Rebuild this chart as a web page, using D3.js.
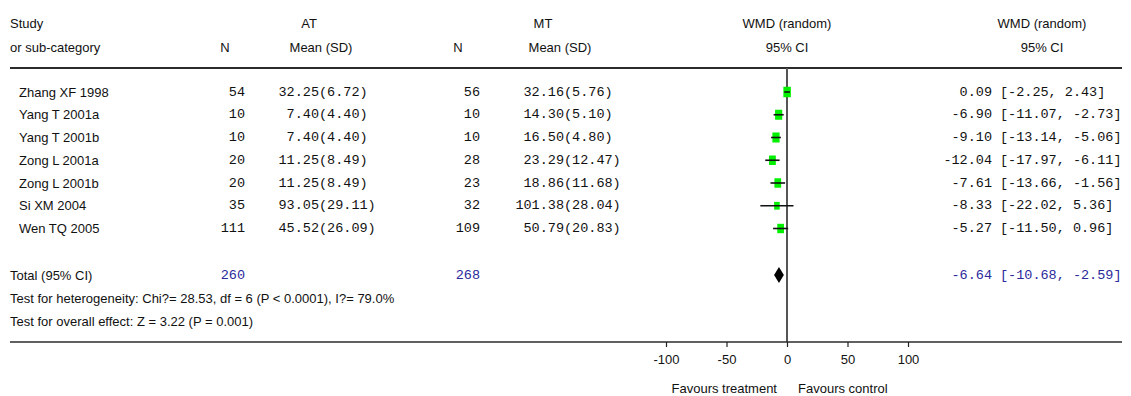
<!DOCTYPE html>
<html>
<head>
<meta charset="utf-8">
<script src="https://cdn.jsdelivr.net/npm/d3@7"></script>
<style>
  html, body { margin: 0; padding: 0; background: #fff; }
  svg { display: block; }
  .sans { font-family: "Liberation Sans", Arial, sans-serif; font-size: 13px; fill: #111; }
  .mono { font-family: "Liberation Mono", "Courier New", monospace; font-size: 13.5px; fill: #111; }
  .blue { fill: #2a2a9c; }
</style>
</head>
<body>
<svg id="chart" width="1131" height="396"></svg>
<script>
// Study-level data
const studies   = ["Zhang XF 1998", "Yang T 2001a", "Yang T 2001b", "Zong L 2001a", "Zong L 2001b", "Si XM 2004", "Wen TQ 2005"];
const atN       = [54, 10, 10, 20, 20, 35, 111];
const atMean    = ["32.25", "7.40", "7.40", "11.25", "11.25", "93.05", "45.52"];
const atSD      = ["6.72", "4.40", "4.40", "8.49", "8.49", "29.11", "26.09"];
const mtN       = [56, 10, 10, 28, 23, 32, 109];
const mtMean    = ["32.16", "14.30", "16.50", "23.29", "18.86", "101.38", "50.79"];
const mtSD      = ["5.76", "5.10", "4.80", "12.47", "11.68", "28.04", "20.83"];
const wmd       = [0.09, -6.90, -9.10, -12.04, -7.61, -8.33, -5.27];
const ciLow     = [-2.25, -11.07, -13.14, -17.97, -13.66, -22.02, -11.50];
const ciHigh    = [2.43, -2.73, -5.06, -6.11, -1.56, 5.36, 0.96];

// Pooled result
const totalAtN = 260, totalMtN = 268;
const pooled = -6.64, pooledLow = -10.68, pooledHigh = -2.59;
const heterogeneityText = "Test for heterogeneity: Chi?= 28.53, df = 6 (P < 0.0001), I?= 79.0%";
const overallText = "Test for overall effect: Z = 3.22 (P = 0.001)";

// Axis
const axisTicks = [-100, -50, 0, 50, 100];
const axisDomain = [-100, 100];

const svg = d3.select("#chart");
const fmt = d3.format(".2f");
const fmtVal = v => fmt(v).replace("\u2212", "-");

const x = d3.scaleLinear().domain(axisDomain).range([666, 908]);
const y = d3.scalePoint().domain(studies).range([92, 228.5]);

const yTotal = 275, yHet = 298, yOverall = 321;
const yHead1 = 23, yHead2 = 47;
const topLineY = 68, axisY = 342;
const left = 10, right = 1122;

// Column anchors
const colStudy = 19;
const colAtN = 245, colAtParen = 319;
const colMtN = 480, colMtParen = 564;
const colPlot = x(0);
const colEstBracket = 1000;
const colRightHead = 1042;

function text(cls, px, py, s, anchor) {
  return svg.append("text").attr("class", cls)
    .attr("x", px).attr("y", py)
    .attr("dominant-baseline", "central")
    .attr("text-anchor", anchor || "start")
    .text(s);
}

// Header
text("sans", left, yHead1, "Study");
text("sans", left, yHead2, "or sub-category");
text("sans", 225, yHead2, "N", "middle");
text("sans", 309, yHead1, "AT", "middle");
text("sans", 321, yHead2, "Mean (SD)", "middle");
text("sans", 458, yHead2, "N", "middle");
text("sans", 543, yHead1, "MT", "middle");
text("sans", 560, yHead2, "Mean (SD)", "middle");
text("sans", colPlot, yHead1, "WMD (random)", "middle");
text("sans", colPlot, yHead2, "95% CI", "middle");
text("sans", colRightHead, yHead1, "WMD (random)", "middle");
text("sans", colRightHead, yHead2, "95% CI", "middle");

// Rule under the header
svg.append("line").attr("x1", left).attr("x2", right).attr("y1", topLineY).attr("y2", topLineY)
  .attr("stroke", "#2b2b2b").attr("stroke-width", 2);

// Study rows
studies.forEach((s, i) => {
  const yy = y(s);
  text("sans", colStudy, yy, s);
  text("mono", colAtN, yy, String(atN[i]), "end");
  text("mono", colAtParen, yy, atMean[i], "end");
  text("mono", colAtParen, yy, "(" + atSD[i] + ")");
  text("mono", colMtN, yy, String(mtN[i]), "end");
  text("mono", colMtParen, yy, mtMean[i], "end");
  text("mono", colMtParen, yy, "(" + mtSD[i] + ")");
  text("mono", colEstBracket - 8, yy, fmtVal(wmd[i]), "end");
  text("mono", colEstBracket, yy, "[" + fmtVal(ciLow[i]) + ", " + fmtVal(ciHigh[i]) + "]");
});

// Random-effects weights (DerSimonian-Laird) from the confidence intervals
const se = studies.map((_, i) => (ciHigh[i] - ciLow[i]) / (2 * 1.96));
const wF = se.map(s => 1 / (s * s));
const sumW = d3.sum(wF);
const fixedMean = d3.sum(wF.map((w, i) => w * wmd[i])) / sumW;
const Q = d3.sum(wF.map((w, i) => w * (wmd[i] - fixedMean) ** 2));
const C = sumW - d3.sum(wF.map(w => w * w)) / sumW;
const tau2 = Math.max(0, (Q - (studies.length - 1)) / C);
const wR = se.map(s => 1 / (s * s + tau2));
const boxScale = d3.scaleLinear().domain([0, d3.max(wR)]).range([0.62, 1]);

// Zero line
svg.append("line").attr("x1", x(0)).attr("x2", x(0)).attr("y1", topLineY).attr("y2", axisY)
  .attr("stroke", "#555").attr("stroke-width", 2);

// Boxes (green) with CI lines drawn on top
const marks = svg.append("g");
studies.forEach((s, i) => {
  const yy = y(s);
  const k = boxScale(wR[i]);
  const bw = 7.5 * k, bh = 10.5 * k;
  marks.append("rect")
    .attr("x", x(wmd[i]) - bw / 2).attr("y", yy - bh / 2)
    .attr("width", bw).attr("height", bh)
    .attr("fill", "#00f000");
});
studies.forEach((s, i) => {
  const yy = y(s);
  marks.append("line")
    .attr("x1", x(ciLow[i])).attr("x2", x(ciHigh[i]))
    .attr("y1", yy).attr("y2", yy)
    .attr("stroke", "#111").attr("stroke-width", 1.6);
});

// Pooled row
text("sans", left, yTotal, "Total (95% CI)");
text("mono blue", colAtN, yTotal, String(totalAtN), "end");
text("mono blue", colMtN, yTotal, String(totalMtN), "end");
text("mono blue", colEstBracket - 8, yTotal, fmtVal(pooled), "end");
text("mono blue", colEstBracket, yTotal, "[" + fmtVal(pooledLow) + ", " + fmtVal(pooledHigh) + "]");

const dh = 8;
svg.append("path")
  .attr("d", `M${x(pooledLow)},${yTotal} L${x(pooled)},${yTotal - dh} L${x(pooledHigh)},${yTotal} L${x(pooled)},${yTotal + dh} Z`)
  .attr("fill", "#000");

text("sans", left, yHet, heterogeneityText);
text("sans", left, yOverall, overallText);

// Bottom axis
svg.append("line").attr("x1", left).attr("x2", right).attr("y1", axisY).attr("y2", axisY)
  .attr("stroke", "#2b2b2b").attr("stroke-width", 1.5);

const axisG = svg.append("g").attr("transform", `translate(0,${axisY})`)
  .call(d3.axisBottom(x).tickValues(axisTicks).tickSize(5).tickPadding(8).tickFormat(d => String(d)));
axisG.select(".domain").remove();
axisG.selectAll(".tick line").attr("stroke", "#222").attr("stroke-width", 1.2);
axisG.selectAll(".tick text")
  .attr("font-family", "Liberation Sans, Arial, sans-serif")
  .attr("font-size", 13).attr("fill", "#111");

text("sans", x(0) - 10, 388, "Favours treatment", "end");
text("sans", x(0) + 11, 388, "Favours control", "start");
</script>
</body>
</html>
